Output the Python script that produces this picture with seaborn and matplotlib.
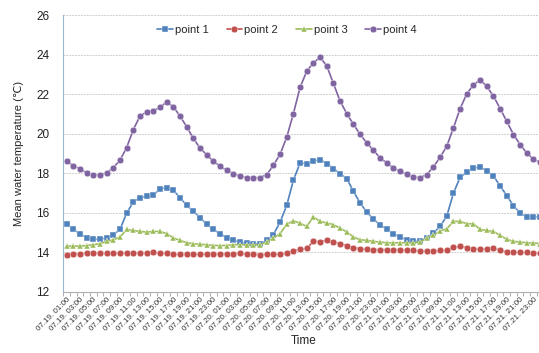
import numpy as np
import pandas as pd
import matplotlib
matplotlib.use('Agg')
import matplotlib.pyplot as plt
import seaborn as sns

# hourly readings, 07.19 01:00 .. 07.22 00:00
days = ['07.19'] * 23 + ['07.20'] * 24 + ['07.21'] * 24 + ['07.22']
hours = list(range(1, 24)) + list(range(24)) + list(range(24)) + [0]
times = ['%s. %02d:00' % (d, h) for d, h in zip(days, hours)]

point1 = [15.45, 15.16, 14.95, 14.74, 14.67, 14.66, 14.73, 14.90, 15.16, 15.99, 16.55, 16.77,
          16.84, 16.89, 17.22, 17.27, 17.14, 16.77, 16.38, 16.08, 15.76, 15.42, 15.16, 14.95,
          14.74, 14.61, 14.52, 14.47, 14.44, 14.44, 14.61, 14.90, 15.53, 16.38, 17.65, 18.52,
          18.49, 18.62, 18.69, 18.49, 18.24, 17.98, 17.73, 17.09, 16.50, 16.04, 15.67, 15.40,
          15.16, 14.95, 14.78, 14.64, 14.56, 14.56, 14.74, 14.98, 15.32, 15.84, 17.00, 17.80,
          18.05, 18.25, 18.33, 18.11, 17.86, 17.36, 16.87, 16.36, 15.98, 15.79, 15.79, 15.79]
point2 = [13.88, 13.91, 13.93, 13.97, 13.97, 13.95, 13.95, 13.95, 13.95, 13.98, 13.97, 13.97,
          13.97, 14.00, 13.97, 13.95, 13.91, 13.90, 13.90, 13.91, 13.91, 13.91, 13.91, 13.93,
          13.93, 13.93, 13.95, 13.91, 13.91, 13.88, 13.90, 13.91, 13.91, 13.97, 14.08, 14.16,
          14.20, 14.56, 14.54, 14.62, 14.54, 14.44, 14.35, 14.24, 14.19, 14.15, 14.14, 14.14,
          14.14, 14.14, 14.14, 14.10, 14.10, 14.07, 14.07, 14.07, 14.10, 14.10, 14.27, 14.30,
          14.24, 14.19, 14.15, 14.19, 14.22, 14.10, 14.04, 14.03, 14.00, 14.00, 13.98, 13.98]
point3 = [14.32, 14.32, 14.32, 14.35, 14.39, 14.44, 14.56, 14.64, 14.78, 15.16, 15.11, 15.06,
          15.03, 15.06, 15.06, 14.95, 14.73, 14.61, 14.49, 14.44, 14.41, 14.39, 14.35, 14.35,
          14.35, 14.39, 14.39, 14.39, 14.39, 14.39, 14.52, 14.73, 14.95, 15.42, 15.60, 15.47,
          15.32, 15.79, 15.57, 15.49, 15.40, 15.23, 15.03, 14.78, 14.64, 14.61, 14.56, 14.52,
          14.49, 14.49, 14.49, 14.49, 14.49, 14.52, 14.73, 14.86, 15.08, 15.20, 15.57, 15.57,
          15.45, 15.45, 15.16, 15.11, 15.06, 14.86, 14.66, 14.56, 14.52, 14.49, 14.47, 14.45]
point4 = [18.61, 18.39, 18.22, 18.02, 17.92, 17.92, 18.02, 18.29, 18.66, 19.30, 20.21, 20.89,
          21.10, 21.16, 21.33, 21.61, 21.36, 20.89, 20.35, 19.76, 19.28, 18.93, 18.62, 18.35,
          18.15, 17.98, 17.85, 17.78, 17.78, 17.78, 17.93, 18.40, 18.96, 19.82, 21.02, 22.34,
          23.16, 23.59, 23.86, 23.43, 22.54, 21.65, 21.02, 20.48, 19.97, 19.54, 19.16, 18.78,
          18.52, 18.27, 18.10, 17.95, 17.81, 17.78, 17.93, 18.33, 18.81, 19.37, 20.30, 21.27,
          22.02, 22.47, 22.72, 22.39, 21.90, 21.27, 20.62, 19.96, 19.45, 19.02, 18.71, 18.55]

names = ['point 1', 'point 2', 'point 3', 'point 4']
colors = ['#4F81BD', '#C0504D', '#9BBB59', '#8064A2']
marks = ['s', 'o', '^', 'o']

n = len(times)
df = pd.DataFrame({
    'idx': list(range(n)) * 4,
    'temp': point1 + point2 + point3 + point4,
    'point': sum([[nm] * n for nm in names], []),
})

sns.set_style('white')
plt.rcParams['font.family'] = ['Liberation Sans', 'DejaVu Sans']

fig = plt.figure(figsize=(5.39, 3.53), dpi=100)
ax = fig.add_axes([63.3 / 539, 61 / 353, 480.2 / 539, 277 / 353])

sns.lineplot(data=df, x='idx', y='temp', hue='point', style='point',
             palette=dict(zip(names, colors)), markers=dict(zip(names, marks)),
             dashes=False, linewidth=1.2, markersize=4.8, markeredgewidth=0.3,
             ax=ax, legend=True)

ax.set_xlim(-0.5, n - 0.5)
ax.set_ylim(12, 26)
ax.set_yticks(range(12, 27, 2))
ax.tick_params(axis='y', labelsize=8.5, length=0, pad=10, colors='#222222')
ax.yaxis.grid(True, color='#cfcfcf', lw=0.7, ls=(0, (2, 1)))
ax.xaxis.grid(False)

ax.set_xticks(range(0, n, 2))
ax.set_xticklabels(times[::2], rotation=45, ha='right', rotation_mode='anchor',
                   fontsize=5.8, color='#333333')
ax.set_xticks(np.arange(-0.5, n, 1), minor=True)
ax.tick_params(axis='x', which='major', length=0, pad=3)
ax.tick_params(axis='x', which='minor', length=3, color='#a0a0a0', width=0.6,
               direction='out', bottom=True)

for s in ['top', 'right']:
    ax.spines[s].set_visible(False)
ax.spines['left'].set_color('#9bb5d6')
ax.spines['bottom'].set_color('#b0b0b0')
ax.spines['left'].set_linewidth(0.8)
ax.spines['bottom'].set_linewidth(0.8)

ax.set_xlabel('Time', fontsize=8.5, labelpad=2)
ax.set_ylabel('Mean water temperature (\u2103)', fontsize=8, labelpad=9)

handles, labels = ax.get_legend_handles_labels()
ax.legend(handles, labels, loc='center', bbox_to_anchor=(287 / 539, 1 - 30 / 353),
          bbox_transform=fig.transFigure, ncol=4, frameon=False, fontsize=8,
          handlelength=1.4, handletextpad=0.2, columnspacing=1.6)

fig.savefig('out.png', dpi=100)
